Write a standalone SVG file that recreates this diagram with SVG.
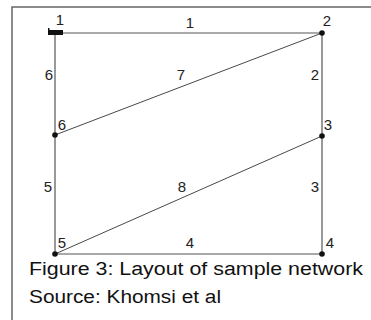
<svg xmlns="http://www.w3.org/2000/svg" width="371" height="320" viewBox="0 0 371 320">
<style>
.edge{stroke:#555;stroke-width:1.2;fill:none}
.diag{stroke:#333;stroke-width:0.9;fill:none}
.lbl{font-family:"Liberation Sans",Arial,sans-serif;font-size:15px;fill:#222;text-anchor:middle}
.cap{font-family:"Liberation Sans",Arial,sans-serif;font-size:18px;fill:#111}
.dot{fill:#111}
</style>
<rect x="0" y="0" width="371" height="320" fill="#fff"/>
<rect x="12" y="7" width="380" height="330" fill="none" stroke="#666" stroke-width="1.5"/>
<g id="connectors">
<line class="edge" x1="55" y1="33" x2="322" y2="33"/>
<line class="edge" x1="322" y1="33" x2="322" y2="136"/>
<line class="edge" x1="322" y1="136" x2="322" y2="254"/>
<line class="edge" x1="55" y1="254" x2="322" y2="254"/>
<line class="edge" x1="55" y1="135" x2="55" y2="254"/>
<line class="edge" x1="55" y1="33" x2="55" y2="135"/>
<line class="diag" x1="55" y1="135" x2="322" y2="33"/>
<line class="diag" x1="55" y1="254" x2="322" y2="136"/>
<text class="lbl" x="190" y="28">1</text>
<text class="lbl" x="315" y="80">2</text>
<text class="lbl" x="315" y="192">3</text>
<text class="lbl" x="190" y="248">4</text>
<text class="lbl" x="48" y="192">5</text>
<text class="lbl" x="49" y="80">6</text>
<text class="lbl" x="181" y="80">7</text>
<text class="lbl" x="182" y="192">8</text>
</g>
<g id="node1">
<rect x="48" y="30" width="15" height="5" fill="#111"/>
<rect x="48" y="28" width="1.5" height="3" fill="#111"/>
<text class="lbl" x="60" y="25">1</text>
</g>
<g id="node2">
<circle class="dot" cx="322" cy="33" r="2.8"/>
<text class="lbl" x="327" y="26">2</text>
</g>
<g id="node3">
<circle class="dot" cx="322" cy="136" r="2.8"/>
<text class="lbl" x="328" y="130">3</text>
</g>
<g id="node4">
<circle class="dot" cx="322" cy="254" r="2.8"/>
<text class="lbl" x="330" y="248">4</text>
</g>
<g id="node5">
<circle class="dot" cx="55" cy="254" r="2.8"/>
<text class="lbl" x="62" y="248">5</text>
</g>
<g id="node6">
<circle class="dot" cx="55" cy="135" r="2.8"/>
<text class="lbl" x="62" y="130">6</text>
</g>
<text class="cap" x="29" y="275" textLength="334" lengthAdjust="spacingAndGlyphs">Figure 3: Layout of sample network</text>
<text class="cap" x="29" y="303" textLength="192" lengthAdjust="spacingAndGlyphs">Source: Khomsi et al</text>
</svg>
